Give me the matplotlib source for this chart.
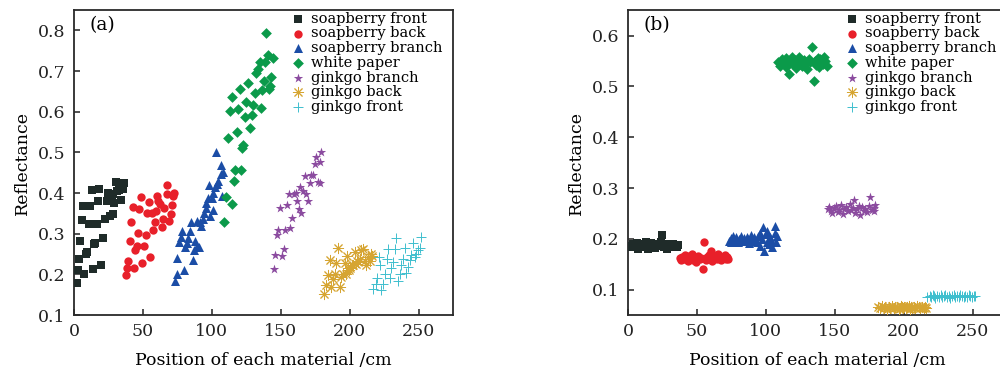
import matplotlib
matplotlib.use('Agg')
import matplotlib.pyplot as plt

plt.rcParams['font.family'] = ['DejaVu Serif']

LABELS = ['soapberry front', 'soapberry back', 'soapberry branch', 'white paper',
          'ginkgo branch', 'ginkgo back', 'ginkgo front']
COLORS = ['#1f2b29', '#e8202a', '#1b4da6', '#0b9a4a', '#8b4b9f', '#d6a532', '#3ebfce']
MARKERS = ['s', 'o', '^', 'D', '*', (8, 2, 0), '+']
SIZES = [28, 36, 42, 30, 50, 55, 45]

# positions (cm), shared by both panels
SF_X = [1.9, 3.1, 3.6, 4.3, 5.6, 6.8, 7.5, 8.7, 9.7, 10.9, 11.6, 12.8, 13.5, 14.5, 15.2, 16.4, 17.6,
        18.3, 19.3, 20.8, 22.5, 23.7, 24.9, 26.1, 27.3, 28.0, 28.5, 29.2, 30.4, 30.9, 32.8, 34.1, 35.3, 36.2]
SB_X = [37.4, 38.2, 39.4, 40.6, 41.3, 42.5, 43.5, 44.2, 45.4, 46.6, 47.3, 48.3, 49.5, 50.7, 52.2, 53.1,
        54.6, 55.1, 56.3, 57.5, 58.7, 59.4, 60.4, 61.1, 62.3, 63.5, 64.3, 65.2, 67.2, 67.6, 69.0, 70.3,
        70.8, 71.5, 72.5]
SR_X = [73.2, 74.4, 74.9, 76.1, 77.3, 78.5, 80.0, 80.4, 81.7, 82.8, 84.1, 84.8, 86.0, 86.9, 87.7, 88.9,
        89.6, 90.8, 91.3, 92.5, 93.3, 94.4, 95.7, 96.1, 97.3, 98.1, 99.0, 100.2, 100.5, 100.9, 102.2,
        102.9, 103.4, 104.6, 106.3, 107.0, 107.5, 108.2]
WP_X = [108.9, 110.6, 111.8, 113.1, 114.3, 115.0, 116.0, 116.7, 118.3, 119.1, 120.3, 121.5, 122.2,
        122.7, 123.9, 125.1, 126.3, 127.5, 128.8, 129.9, 131.2, 132.4, 133.6, 134.8, 135.5, 136.7,
        137.7, 138.4, 139.6, 140.8, 141.5, 142.5, 143.3, 144.4]
GR_X = [144.9, 146.1, 147.3, 148.0, 149.3, 151.2, 152.2, 152.9, 154.6, 156.0, 157.0, 158.5, 159.7,
        160.9, 162.1, 163.3, 163.8, 165.0, 166.2, 167.4, 168.6, 169.8, 171.0, 172.2, 173.4, 174.6,
        175.8, 177.0, 178.3, 178.7, 179.5]
GK_X = [181.2, 182.6, 184.3, 185.5, 186.7, 187.9, 189.1, 190.3, 191.5, 192.8, 194.0, 195.1, 196.4,
        197.6, 198.0, 198.8, 199.5, 200.5, 201.9, 202.5, 203.6, 204.3, 205.0, 206.0, 207.2, 208.5,
        209.6, 210.9, 212.1, 213.3, 214.5, 215.2, 216.4]
GF_X = [216.9, 218.8, 219.8, 221.2, 221.7, 223.0, 224.1, 225.4, 227.0, 227.8, 229.0, 230.2, 231.4,
        232.6, 233.8, 235.0, 236.2, 237.5, 238.6, 239.9, 241.1, 242.2, 243.5, 244.7, 245.9, 247.1,
        248.3, 249.5, 250.7, 251.9]

# (a) reflectance
SF_A = [0.18, 0.21, 0.239, 0.283, 0.334, 0.368, 0.20, 0.251, 0.256, 0.325, 0.368, 0.407, 0.214, 0.276,
        0.278, 0.325, 0.38, 0.41, 0.224, 0.29, 0.336, 0.38, 0.40, 0.344, 0.385, 0.349, 0.397, 0.375,
        0.427, 0.405, 0.407, 0.383, 0.41, 0.425]
SB_A = [0.198, 0.216, 0.234, 0.281, 0.33, 0.366, 0.216, 0.261, 0.271, 0.301, 0.362, 0.391, 0.228, 0.271,
        0.298, 0.35, 0.378, 0.242, 0.352, 0.31, 0.33, 0.356, 0.394, 0.38, 0.373, 0.317, 0.337, 0.363,
        0.421, 0.397, 0.332, 0.348, 0.371, 0.394, 0.401]
SR_A = [0.185, 0.2, 0.241, 0.279, 0.293, 0.306, 0.212, 0.267, 0.277, 0.29, 0.307, 0.33, 0.236, 0.261,
        0.281, 0.271, 0.332, 0.268, 0.328, 0.32, 0.337, 0.352, 0.376, 0.364, 0.389, 0.419, 0.344, 0.389,
        0.358, 0.401, 0.415, 0.502, 0.423, 0.429, 0.446, 0.47, 0.393, 0.452]
WP_A = [0.33, 0.391, 0.535, 0.601, 0.637, 0.374, 0.429, 0.458, 0.551, 0.608, 0.655, 0.458, 0.51, 0.519,
        0.588, 0.624, 0.671, 0.559, 0.592, 0.617, 0.647, 0.696, 0.706, 0.722, 0.61, 0.653, 0.675, 0.722,
        0.793, 0.74, 0.655, 0.663, 0.685, 0.732]
GR_A = [0.214, 0.248, 0.297, 0.309, 0.364, 0.246, 0.263, 0.309, 0.371, 0.397, 0.314, 0.34, 0.397, 0.401,
        0.38, 0.36, 0.415, 0.352, 0.405, 0.441, 0.397, 0.38, 0.425, 0.444, 0.444, 0.471, 0.49, 0.427,
        0.476, 0.425, 0.502]
GK_A = [0.151, 0.173, 0.198, 0.236, 0.168, 0.189, 0.202, 0.228, 0.265, 0.17, 0.193, 0.202, 0.228, 0.202,
        0.246, 0.215, 0.21, 0.216, 0.222, 0.224, 0.254, 0.226, 0.232, 0.23, 0.238, 0.259, 0.263, 0.234,
        0.222, 0.242, 0.234, 0.25, 0.246]
GF_A = [0.163, 0.177, 0.191, 0.242, 0.222, 0.161, 0.177, 0.2, 0.238, 0.263, 0.191, 0.216, 0.23, 0.263,
        0.289, 0.185, 0.202, 0.222, 0.238, 0.265, 0.203, 0.218, 0.236, 0.249, 0.277, 0.242, 0.25, 0.259,
        0.265, 0.292]

# (b) reflectance
SF_B = [0.186, 0.183, 0.190, 0.188, 0.184, 0.192, 0.181, 0.187, 0.189, 0.185, 0.183, 0.194, 0.186,
        0.180, 0.188, 0.191, 0.184, 0.187, 0.182, 0.189, 0.186, 0.193, 0.207, 0.184, 0.188, 0.181,
        0.190, 0.185, 0.187, 0.183, 0.189, 0.186, 0.184, 0.188]
SB_B = [0.162, 0.158, 0.165, 0.160, 0.168, 0.163, 0.157, 0.166, 0.161, 0.170, 0.159, 0.164, 0.155,
        0.167, 0.160, 0.163, 0.140, 0.193, 0.158, 0.165, 0.169, 0.161, 0.176, 0.157, 0.164, 0.166,
        0.160, 0.171, 0.162, 0.158, 0.165, 0.168, 0.161, 0.164, 0.160]
SR_B = [0.196, 0.201, 0.193, 0.205, 0.198, 0.203, 0.194, 0.200, 0.206, 0.197, 0.202, 0.195, 0.204,
        0.199, 0.192, 0.201, 0.207, 0.196, 0.203, 0.198, 0.193, 0.205, 0.212, 0.186, 0.200, 0.224,
        0.177, 0.209, 0.194, 0.215, 0.190, 0.203, 0.198, 0.184, 0.225, 0.211, 0.193, 0.205]
WP_B = [0.548, 0.541, 0.553, 0.545, 0.556, 0.538, 0.550, 0.524, 0.547, 0.558, 0.543, 0.551, 0.536,
        0.549, 0.557, 0.544, 0.540, 0.552, 0.546, 0.535, 0.554, 0.548, 0.578, 0.511, 0.550, 0.542,
        0.556, 0.539, 0.553, 0.547, 0.544, 0.558, 0.549, 0.541]
GR_B = [0.258, 0.262, 0.255, 0.251, 0.260, 0.264, 0.253, 0.257, 0.266, 0.249, 0.259, 0.263, 0.254,
        0.268, 0.256, 0.261, 0.276, 0.250, 0.258, 0.265, 0.247, 0.262, 0.255, 0.259, 0.252, 0.264,
        0.282, 0.257, 0.260, 0.254, 0.266]
GK_B = [0.066, 0.063, 0.067, 0.064, 0.065, 0.062, 0.066, 0.064, 0.067, 0.063, 0.065, 0.066, 0.062,
        0.064, 0.067, 0.065, 0.063, 0.066, 0.064, 0.065, 0.067, 0.062, 0.066, 0.064, 0.065, 0.063,
        0.067, 0.065, 0.064, 0.066, 0.063, 0.065, 0.064]
GF_B = [0.086, 0.088, 0.085, 0.089, 0.087, 0.084, 0.088, 0.086, 0.090, 0.085, 0.087, 0.089, 0.086,
        0.088, 0.084, 0.087, 0.089, 0.086, 0.088, 0.085, 0.090, 0.087, 0.086, 0.088, 0.085, 0.089,
        0.087, 0.086, 0.088, 0.087]

XS = [SF_X, SB_X, SR_X, WP_X, GR_X, GK_X, GF_X]
YS_A = [SF_A, SB_A, SR_A, WP_A, GR_A, GK_A, GF_A]
YS_B = [SF_B, SB_B, SR_B, WP_B, GR_B, GK_B, GF_B]


def panel(ax, ys, tag, ylim, yticks):
    for x, y, lab, c, m, s in zip(XS, ys, LABELS, COLORS, MARKERS, SIZES):
        lw = 0.7 if m in ('+', (8, 2, 0)) else 0
        ax.scatter(x, y, s=s, c=c, marker=m, linewidths=lw, label=lab, zorder=3)
    ax.set_xlim(0, 275)
    ax.set_ylim(*ylim)
    ax.set_xticks([0, 50, 100, 150, 200, 250])
    ax.set_yticks(yticks)
    ax.set_yticklabels([f'{v:.1f}' for v in yticks])
    ax.tick_params(direction='in', length=4, width=1.1, labelsize=12.5, pad=6,
                   top=False, right=False, colors='#222')
    for sp in ax.spines.values():
        sp.set_linewidth(1.3)
        sp.set_color('#2a2a2a')
    ax.set_xlabel('Position of each material /cm', fontsize=12.5, labelpad=8)
    ax.set_ylabel('Reflectance', fontsize=12.5, labelpad=5)
    ax.text(0.04, 0.952, tag, transform=ax.transAxes, fontsize=13.5, ha='left', va='center')
    ax.legend(loc='upper left', bbox_to_anchor=(0.575, 0.995), frameon=False, fontsize=10.5,
              borderpad=0, borderaxespad=0, labelspacing=0.05, handlelength=0.8,
              handletextpad=0.5, scatterpoints=1)


fig = plt.figure(figsize=(10, 3.76), dpi=100)
ax1 = fig.add_axes([0.074, 0.162, 0.379, 0.811])
ax2 = fig.add_axes([0.628, 0.162, 0.379, 0.811])

panel(ax1, YS_A, '(a)', (0.1, 0.85), [0.1, 0.2, 0.3, 0.4, 0.5, 0.6, 0.7, 0.8])
panel(ax2, YS_B, '(b)', (0.05, 0.65), [0.1, 0.2, 0.3, 0.4, 0.5, 0.6])

fig.savefig('out.png', dpi=100, facecolor='white')
